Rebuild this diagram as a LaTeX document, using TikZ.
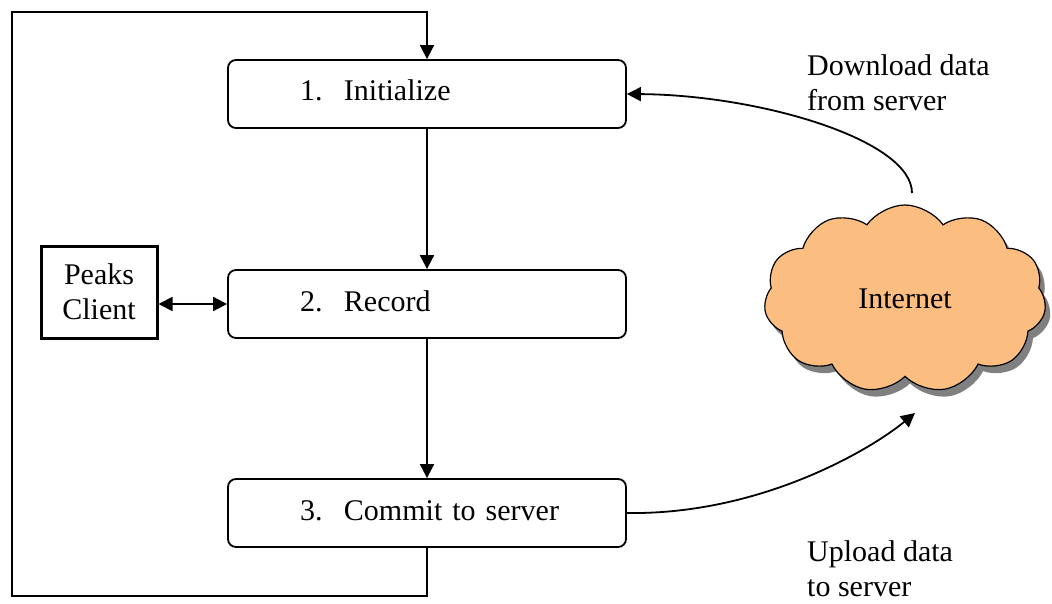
\documentclass[tikz,border=0pt]{standalone}
\usepackage{fontspec}
\setmainfont{Liberation Serif}
\usetikzlibrary{arrows.meta,shapes.symbols,shadows}

\definecolor{cloudfill}{RGB}{251,190,128}
\definecolor{cloudshadow}{RGB}{128,128,128}

\tikzset{
  txt/.style={font=\fontsize{30}{35}\selectfont},
  stepbox/.style={txt, draw, line width=1.8pt, rounded corners=8pt,
    minimum width=398pt, minimum height=68pt, text width=398pt,
    inner xsep=0pt, inner ysep=0pt, align=left, text height=20pt, text depth=6pt},
  client/.style={txt, draw, line width=3pt, minimum width=116pt, minimum height=92pt,
    inner sep=0pt, align=center},
  flow/.style={line width=1.8pt, -{Triangle[length=14pt,width=14pt]}},
  both/.style={line width=1.8pt, {Triangle[length=14pt,width=14pt]}-{Triangle[length=14pt,width=14pt]}},
  net/.style={txt, cloud, cloud puffs=11, cloud puff arc=110, aspect=1.5,
    draw, line width=1.2pt, fill=cloudfill, minimum width=282pt, minimum height=188pt,
    general shadow={fill=cloudshadow, shadow xshift=5pt, shadow yshift=-7pt}},
  lbl/.style={txt, align=left, inner sep=0pt}
}

\begin{document}
\begin{tikzpicture}[x=1pt,y=-1pt]
  \useasboundingbox (0,0) rectangle (1052,604);

  % the three steps
  \node[stepbox] (b1) at (427,94)  {\hspace*{72pt}\makebox[44pt][l]{1.}Initialize};
  \node[stepbox] (b2) at (427,304) {\hspace*{72pt}\makebox[44pt][l]{2.}Record};
  \node[stepbox] (b3) at (427,513) {\hspace*{72pt}\makebox[44pt][l]{3.}Commit to server};

  % client and network
  \node[client] (pc) at (99,292) {Peaks\\Client};
  \node[net] (inet) at (905,299) {Internet};

  % labels of the transfers
  \node[lbl, anchor=west] (dl) at (807,83) {Download data\\from server};
  \node[lbl, anchor=west] (ul) at (807,569) {Upload data\\to server};

  % free ends of the curved arrows
  \coordinate (dlstart) at (912,193);
  \coordinate (ulend) at (915,413);
  \coordinate (lp1) at (427,596);
  \coordinate (lp2) at (12,596);
  \coordinate (lp3) at (12,12);
  \coordinate (lp4) at (427,12);

  % flow between the steps
  \draw[flow] (b1) -- (b2);
  \draw[flow] (b2) -- (b3);
  \draw[flow] (b3.south) -- (lp1) -- (lp2) -- (lp3) -- (lp4) -- (b1.north);
  \draw[both] (pc.east |- b2.west) -- (b2.west);

  % server transfers
  \draw[flow] (dlstart) .. controls (912,140) and (760,95) .. (b1.east);
  \draw[flow] (b3.east) .. controls (760,515) and (870,450) .. (ulend);
\end{tikzpicture}
\end{document}
